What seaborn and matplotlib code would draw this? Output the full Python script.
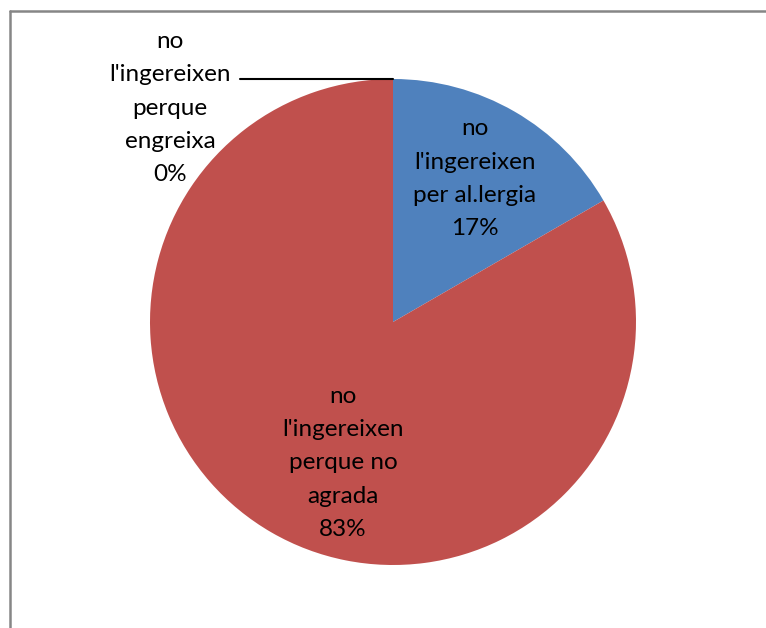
import matplotlib
matplotlib.use("Agg")
import matplotlib.pyplot as plt
from matplotlib.lines import Line2D
import seaborn as sns

# Reasons for not eating it (counts)
categories = [
    "no\nl'ingereixen\nper al.lergia",
    "no\nl'ingereixen\nperque no\nagrada",
    "no\nl'ingereixen\nperque\nengreixa",
]
counts = [1, 5, 0]
colors = ["#4F81BD", "#C0504D", "#9BBB59"]

sns.set_theme(style="white")
plt.rcParams["font.family"] = ["Lato", "DejaVu Sans"]

W, H = 766, 628
fig = plt.figure(figsize=(W / 100, H / 100), dpi=100)
ax = fig.add_axes([0, 0, 1, 1])

# pie centre and radius in pixels, data unit = radius
cx, cy, r = 393, 322, 243

ax.pie(counts, colors=colors, startangle=90, counterclock=False,
       radius=1.0, center=(0, 0), frame=True,
       wedgeprops=dict(linewidth=0))
ax.set_xlim(-cx / r, (W - cx) / r)
ax.set_ylim(-(H - cy) / r, cy / r)
ax.set_axis_off()

total = sum(counts)
pcts = [f"{round(100 * c / total):.0f}%" for c in counts]

label_pos = [(0.337, 0.59), (-0.206, -0.58), (-0.918, 0.88)]
for text, pct, (x, y) in zip(categories, pcts, label_pos):
    ax.text(x, y, f"{text}\n{pct}", ha="center", va="center",
            fontsize=17.5, color="black", linespacing=1.72)

# leader line for the empty slice
ax.add_line(Line2D([-0.63, 0.0], [1.0, 1.0], color="black", linewidth=1.5))

# chart area border (left and top edges)
fig.add_artist(Line2D([10 / W, 10 / W], [0, 1 - 11 / H], transform=fig.transFigure,
                      color="#868686", linewidth=1.8))
fig.add_artist(Line2D([10 / W, 1], [1 - 11 / H, 1 - 11 / H], transform=fig.transFigure,
                      color="#868686", linewidth=1.8))

fig.savefig("out.png", dpi=100, facecolor="white")
